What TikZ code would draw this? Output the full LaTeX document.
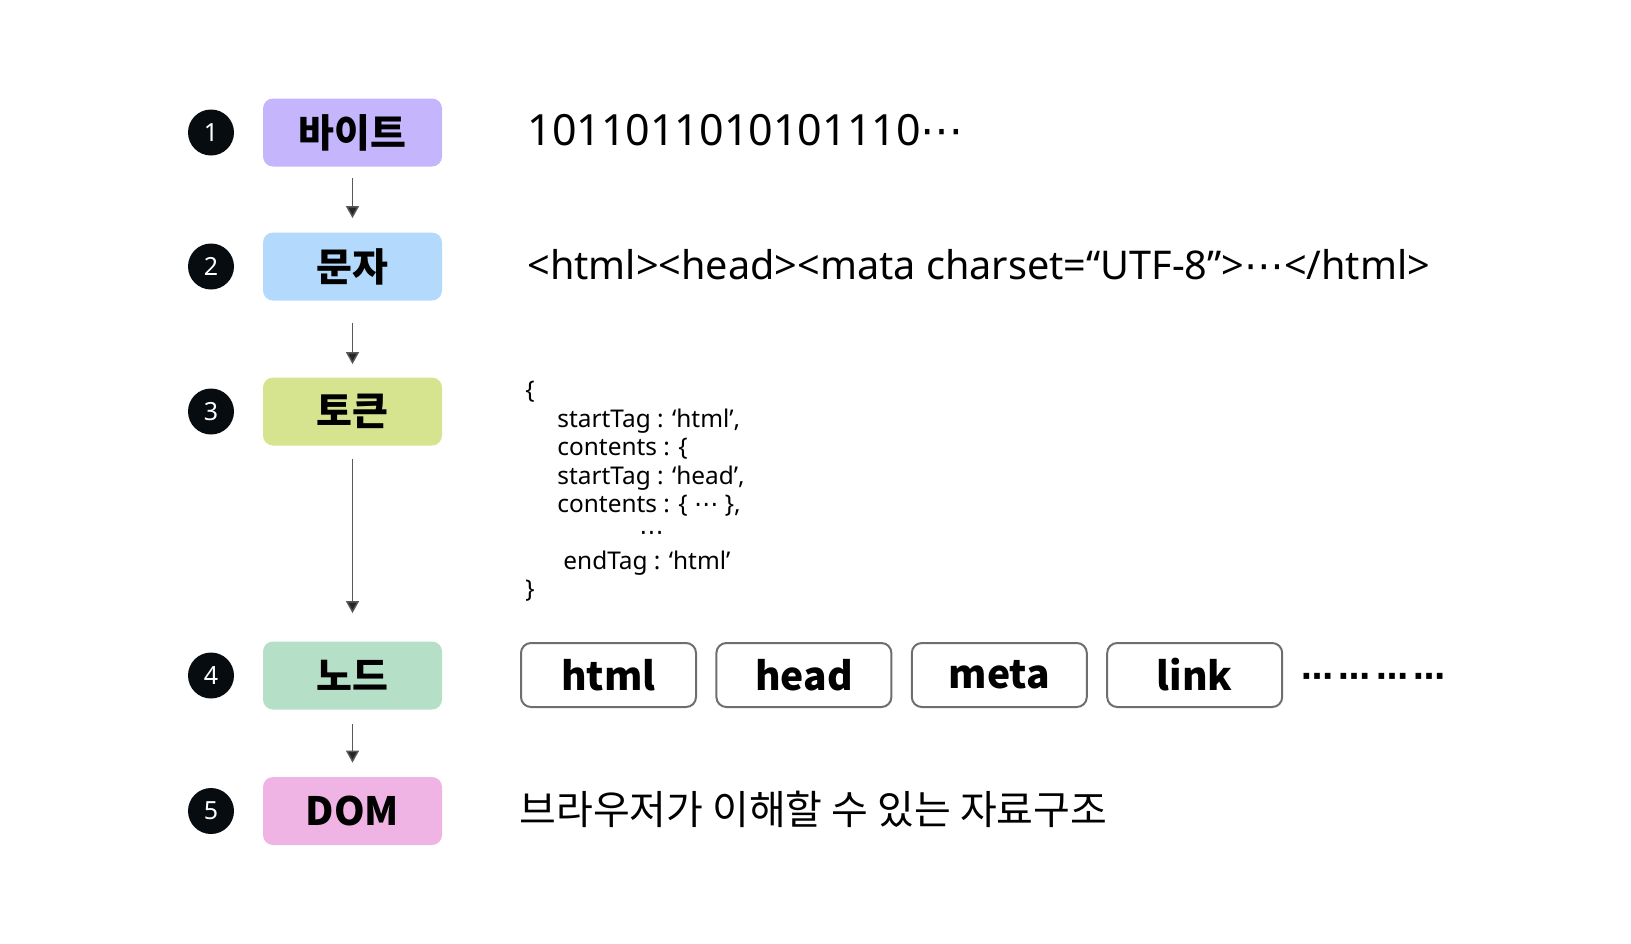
\documentclass[tikz,border=0pt]{standalone}
\usepackage{fontspec}
\setmainfont{Noto Sans}
\newfontfamily\krfont{Noto Sans CJK KR}
\newfontfamily\symfont{DejaVu Sans}
\usepackage{tikz}
\usetikzlibrary{positioning, arrows.meta}
\definecolor{bytepurple}{RGB}{196, 181, 253}
\definecolor{charblue}{RGB}{179, 217, 253}
\definecolor{tokengreen}{RGB}{214, 228, 143}
\definecolor{nodemint}{RGB}{181, 223, 198}
\definecolor{dompink}{RGB}{239, 180, 228}
\definecolor{numblack}{RGB}{6, 12, 16}
\definecolor{tagborder}{RGB}{110, 110, 110}

\newcommand{\mdots}{{\symfont ⋯}}

\tikzset{
    stage/.style={rounded corners=5pt, minimum width=89.5pt, minimum height=34pt,
                  inner sep=0pt, font=\krfont\bfseries\fontsize{19.5}{19.5}\selectfont},
    stepnum/.style={circle, fill=numblack, text=white, minimum size=23pt,
                    inner sep=0pt, font=\fontsize{12.5}{12.5}\selectfont},
    flow/.style={draw=black!65, line width=0.7pt,
                 -{Triangle[width=6.5pt, length=6pt, fill=black!85]}},
    tagbox/.style={draw=tagborder, line width=1pt, rounded corners=5pt,
                   minimum width=87.5pt, minimum height=32pt, inner sep=0pt,
                   font=\krfont\bfseries\fontsize{19.5}{19.5}\selectfont}
}

\begin{document}
\begin{tikzpicture}[x=0.5pt, y=-0.5pt]
    \useasboundingbox (0,0) rectangle (1631,943);

    % numbers
    \node[stepnum] (n1) at (211,132.5) {1};
    \node[stepnum] (n2) at (211,266.5) {2};
    \node[stepnum] (n3) at (211,411.5) {3};
    \node[stepnum] (n4) at (211,675.5) {4};
    \node[stepnum] (n5) at (211,811) {5};

    % stages
    \node[stage, fill=bytepurple] (byte) at (352.5,132.5) {바이트};
    \node[stage, fill=charblue] (char) at (352.5,266.5) {문자};
    \node[stage, fill=tokengreen] (token) at (352.5,411.5) {토큰};
    \node[stage, fill=nodemint] (nodes) at (352.5,675.5) {노드};
    \node[stage, fill=dompink] (dom) at (352.5,811) {DOM};

    \draw[flow, shorten <=5.5pt, shorten >=7pt] (byte) -- (char);
    \draw[flow, shorten <=11pt, shorten >=6.5pt] (char) -- (token);
    \draw[flow, shorten <=6.5pt, shorten >=14pt] (token) -- (nodes);
    \draw[flow, shorten <=7pt, shorten >=7pt] (nodes) -- (dom);

    % right column
    \node[inner sep=0pt, anchor=base west, font=\fontsize{21.5}{21.5}\selectfont]
        (bits) at (527,145) {1011011010101110\mdots};
    \node[inner sep=0pt, anchor=base west, font=\fontsize{19.8}{19.8}\selectfont]
        (html) at (527,279) {<html><head><mata charset=“UTF-8”>\mdots</html>};

    \node[anchor=north west, align=left, inner sep=0pt,
          font=\fontsize{12.2}{14.2}\selectfont] (tree) at (525,381) {
        \{\\
        \hspace*{16pt}startTag : ‘html’,\\
        \hspace*{16pt}contents : \{\\
        \hspace*{16pt}startTag : ‘head’,\\
        \hspace*{16pt}contents : \{ \mdots\ \},\\
        \hspace*{57pt}\mdots\\
        \hspace*{19pt}endTag : ‘html’\\
        \}
    };

    \node[tagbox] (tg1) at (608.5,675) {html};
    \node[tagbox, right=9.2pt of tg1] (tg2) {head};
    \node[tagbox, right=9.2pt of tg2] (tg3) {meta};
    \node[tagbox, right=9.2pt of tg3] (tg4) {link};
    \node[right=9pt of tg4, yshift=-2.5pt, inner sep=0pt,
          font=\symfont\bfseries\fontsize{16}{16}\selectfont] (more) {⋯\,⋯\,⋯\,⋯};

    \node[anchor=west, inner sep=0pt, font=\krfont\fontsize{20}{20}\selectfont]
        (meaning) at (519,809) {브라우저가 이해할 수 있는 자료구조};
\end{tikzpicture}
\end{document}
